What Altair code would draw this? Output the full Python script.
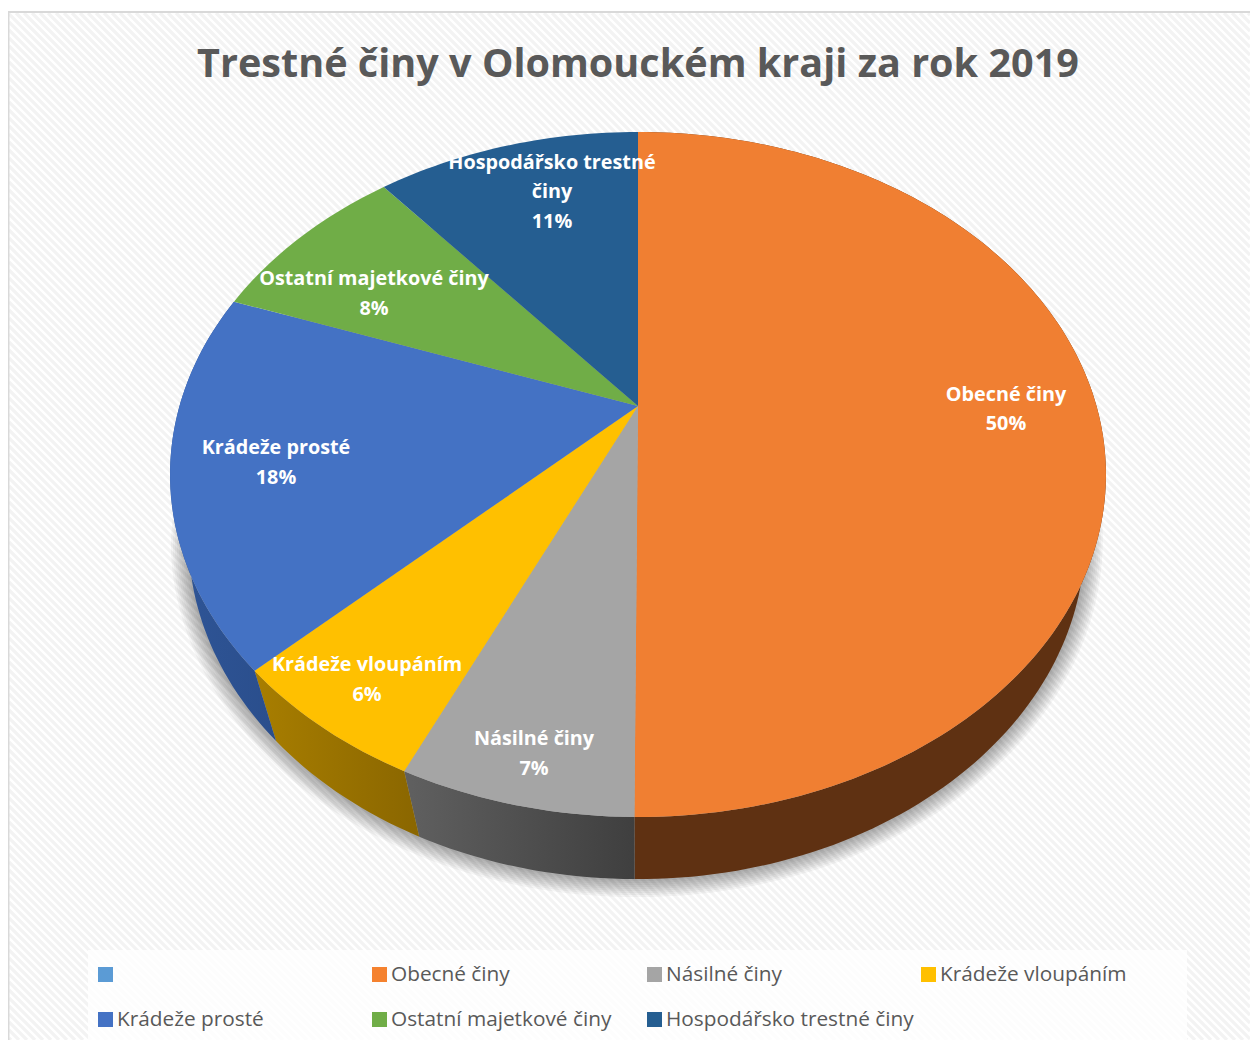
import math
import altair as alt

# ---------- data ----------
CATEGORIES = ["Obecné činy", "Násilné činy", "Krádeže vloupáním", "Krádeže prosté",
              "Ostatní majetkové činy", "Hospodářsko trestné činy"]
SHARES = [50.1, 6.75, 5.95, 17.7, 8.45, 11.05]
PERCENT_LABELS = ["50%", "7%", "6%", "18%", "8%", "11%"]
COLORS = ["#F07F32", "#A5A5A5", "#FFC000", "#4472C4", "#70AD47", "#255E91"]
LEGEND_NAMES = ["", "Obecné činy", "Násilné činy", "Krádeže vloupáním",
                "Krádeže prosté", "Ostatní majetkové činy", "Hospodářsko trestné činy"]
LEGEND_COLORS = ["#5B9BD5", "#F5822F", "#A5A5A5", "#FFC000", "#4472C4", "#70AD47", "#255E91"]
TITLE = "Trestné činy v Olomouckém kraji za rok 2019"

# ---------- layout (chart pixels: page pixels minus the 8px margin) ----------
W, H = 1242, 1032
OX, OY = 8, 8
CX, APEX_PAGE_Y = 638 - OX, 406
C_U, A_V, K_V = 458.5, 247.6, -0.2
TOP_CY, BOT_CY = 474.5 - OY, 539 - OY
BOT_SY = 0.993


def project(frac, r=1.0):
    ang = 2 * math.pi * frac
    u, v = r * math.sin(ang), -r * math.cos(ang)
    den = 1 + K_V * v
    return CX + C_U * u / den, (A_V * v + APEX_PAGE_Y) / den - OY


def bottom(p):
    dx = p[0] - CX
    t = max(0.0, (p[1] - TOP_CY) / 342)
    if dx >= 0:
        return CX + dx * 0.955, BOT_CY + (p[1] - TOP_CY) * BOT_SY
    sx = 0.96 - 0.028 * t
    return CX + dx * sx, BOT_CY + (p[1] - TOP_CY) * BOT_SY + 10 * (abs(dx) / 468) ** 1.7


def arc(a, b, n=None):
    n = n or max(8, int(abs(b - a) * 300))
    return [project(a + (b - a) * i / n) for i in range(n + 1)]


def poly(pts, **props):
    ring = [list(p) for p in pts]
    ring.append(ring[0])
    return {"type": "Feature", "properties": props,
            "geometry": {"type": "Polygon", "coordinates": [ring]}}


def rect(x0, y0, x1, y1, **props):
    return poly([(x0, y0), (x1, y0), (x1, y1), (x0, y1)], **props)


PROJ = alt.Projection(type="identity", scale=1, translate=[0, 0])


def shape(features, **mark):
    return alt.Chart(alt.Data(values=features)).mark_geoshape(**mark)


def grad(c0, c1):
    return alt.Gradient(gradient="linear", x1=0, x2=1, y1=0, y2=0,
                        stops=[alt.GradientStop(color=c0, offset=0),
                               alt.GradientStop(color=c1, offset=1)])


cum = [0.0]
for s in SHARES:
    cum.append(cum[-1] + s / 100)

layers = []

# card background with faint diagonal hatching
TOP, LEFT = 5, 1
hatch = []
STEP = 8
for off in range(-H, W + H, STEP):
    # line y - TOP = x - off, clipped to the card
    x0 = max(LEFT, off)
    y0 = TOP + x0 - off
    x1 = min(W, off + H - TOP)
    y1 = TOP + x1 - off
    if x1 > x0:
        hatch.append([[x0, y0], [x1, y1]])
layers.append(shape([rect(LEFT, TOP, W, H)], fill="#FFFFFF", stroke=None))
layers.append(shape([{"type": "Feature", "properties": {},
                      "geometry": {"type": "MultiLineString", "coordinates": hatch}}],
                    filled=False, stroke="#F3F3F3", strokeWidth=3.2))
layers.append(shape([{"type": "Feature", "properties": {},
                      "geometry": {"type": "LineString",
                                   "coordinates": [[W + 2, TOP - 1], [LEFT - 0.5, TOP - 1], [LEFT - 0.5, H + 2]]}}],
                    filled=False, stroke="#D9D9D9", strokeWidth=2))

# legend panel
layers.append(shape([rect(88 - OX, 950 - OY, 1187 - OX, 1040 - OY)], fill="#FFFFFF", opacity=0.8, stroke=None))

# soft shadow beneath the pie
outline = [bottom(p) for p in arc(0, 1, 240)]
cy = sum(p[1] for p in outline) / len(outline)
shadow = []
for d in range(18, 0, -2):
    pts = []
    for (x, y) in outline:
        ang = math.atan2(y - cy, x - CX)
        pts.append((x + d * math.cos(ang), y + d * math.sin(ang)))
    shadow.append(poly(pts))
layers.append(shape(shadow, fill="#000000", opacity=0.04, stroke=None))

# side walls
WALLS = [
    (0, grad("#5F3112", "#5F3112")),
    (1, grad("#606060", "#3F3F3F")),
    (2, grad("#A87E00", "#8A6600")),
    (3, grad("#2F5597", "#2A4E8C")),
]
for i, g in WALLS:
    top = arc(cum[i], cum[i + 1])
    layers.append(shape([poly(top + [bottom(p) for p in reversed(top)])], fill=g, stroke=None))

# top surface
slices = []
for i, name in enumerate(CATEGORIES):
    slices.append(poly([(CX, APEX_PAGE_Y - OY)] + arc(cum[i], cum[i + 1]), name=name))
layers.append(
    shape(slices, stroke=None).encode(
        color=alt.Color("properties.name:N", legend=None,
                        scale=alt.Scale(domain=CATEGORIES, range=COLORS))
    )
)


def text_layer(rows, **mark):
    return alt.Chart(alt.Data(values=rows)).mark_text(**mark).encode(
        longitude="x:Q", latitude="y:Q", text="t:N")


# data labels (name + percentage), centred in page pixels
LABEL_LINES = [
    [(1006, 394.5, "Obecné činy"), (1006, 423.5, PERCENT_LABELS[0])],
    [(534, 738.5, "Násilné činy"), (534, 768.5, PERCENT_LABELS[1])],
    [(367, 664.5, "Krádeže vloupáním"), (367, 694.5, PERCENT_LABELS[2])],
    [(276, 447.5, "Krádeže prosté"), (276, 477.5, PERCENT_LABELS[3])],
    [(374, 278.5, "Ostatní majetkové činy"), (374, 308.5, PERCENT_LABELS[4])],
    [(552, 162.5, "Hospodářsko trestné"), (552, 191.5, "činy"), (552, 221.5, PERCENT_LABELS[5])],
]
rows = [{"x": x - OX, "y": y - OY, "t": t} for grp in LABEL_LINES for (x, y, t) in grp]
layers.append(text_layer(rows, font="Open Sans", fontSize=19.8, fontWeight="bold",
                         color="#FFFFFF", align="center", baseline="middle"))

# title
layers.append(text_layer([{"x": 638 - OX, "y": 65 - OY, "t": TITLE}], font="Open Sans", fontSize=39.6,
                         fontWeight="bold", color="#595959", align="center", baseline="middle"))

# legend entries
COL_X = [98, 372, 647, 921]
ROW_Y = [967, 1012]
swatches, ltext = [], []
for i, (n, c) in enumerate(zip(LEGEND_NAMES, LEGEND_COLORS)):
    x, y = COL_X[i % 4] - OX, ROW_Y[i // 4] - OY
    swatches.append(rect(x, y, x + 15, y + 15, name=n or " "))
    if n:
        ltext.append({"x": x + 19, "y": y + 8, "t": n})
layers.append(shape(swatches, stroke=None).encode(
    color=alt.Color("properties.name:N", legend=None,
                    scale=alt.Scale(domain=[n or " " for n in LEGEND_NAMES], range=LEGEND_COLORS))
))
layers.append(text_layer(ltext, font="Open Sans", fontSize=20.8, color="#595959",
                         align="left", baseline="middle"))

chart = (
    alt.layer(*layers, projection=PROJ)
    .resolve_scale(color="independent")
    .properties(width=W, height=H, padding=0, background="#FFFFFF",
                autosize=alt.AutoSizeParams(type="none"))
    .configure_view(stroke=None)
)
chart.save("out.html", embed_options={"renderer": "svg", "actions": False})
